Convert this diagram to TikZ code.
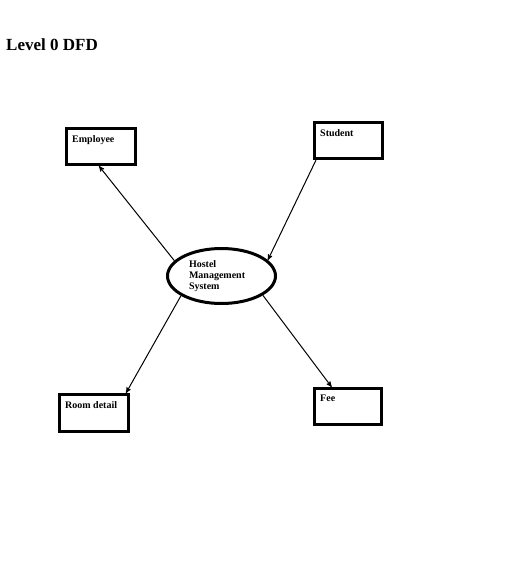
\documentclass[tikz,border=0pt]{standalone}
\usepackage{fontspec}
\setmainfont{Liberation Serif}
\usetikzlibrary{shapes.geometric}
\usetikzlibrary{arrows}
\tikzset{x=1pt,y=-1pt,
    entity/.style={
        draw,
        line width=3pt,
        rectangle,
        minimum width=69pt,
        minimum height=36pt},
    boxtext/.style={
        anchor=north west,
        inner sep=0pt,
        xshift=7pt,
        yshift=-8pt,
        font=\fontsize{10}{11}\selectfont\bfseries},
    every path/.style={
        >=stealth'},
    flow/.style={
        draw,
        ->,
        line width=1pt}}

\begin{document}
\begin{tikzpicture}
    \useasboundingbox (0,0) rectangle (505,579);
        \node[anchor=base west,inner sep=0pt,font=\fontsize{17}{20}\selectfont\bfseries] (title) at (6,50) {Level 0 DFD};
        \node[draw,ellipse,line width=3pt,minimum width=108pt,minimum height=55pt,inner sep=2pt,text width=65pt,align=left,font=\fontsize{10}{11}\selectfont\bfseries] (hms) at (221.5,276) {Hostel\\Management\\System};
        \node[entity,label={[boxtext]north west:Employee}] (emp) at (101,146.5) {};
        \node[entity,minimum width=68pt,label={[boxtext]north west:Student}] (stu) at (348.5,140.5) {};
        \node[entity,minimum height=37pt,label={[boxtext]north west:Room detail}] (room) at (94,413) {};
        \node[entity,minimum width=67pt,label={[boxtext]north west:Fee}] (fee) at (348,406.5) {};
        \draw[flow] (hms.162) -- (emp.264);
        \draw[flow] (stu.211) -- (hms.19);
        \draw[flow] (hms.206) -- (room.32);
        \draw[flow] (hms.335) -- (fee.130);
    \end{tikzpicture}
\end{document}
